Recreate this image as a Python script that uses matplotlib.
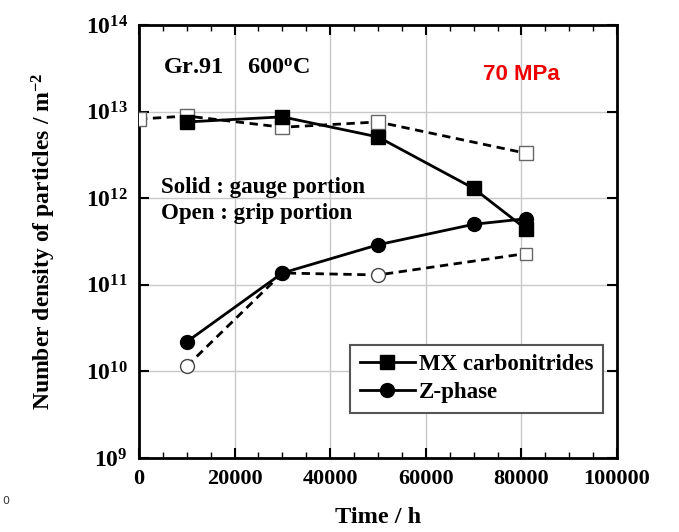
import math
import matplotlib
matplotlib.use("Agg")
import matplotlib.pyplot as plt
from matplotlib.ticker import FuncFormatter, MultipleLocator, LogLocator, NullLocator

plt.rcParams['font.family'] = ['Liberation Serif', 'DejaVu Serif']
plt.rcParams['mathtext.fontset'] = 'custom'
plt.rcParams['mathtext.rm'] = 'Liberation Serif:bold'
plt.rcParams['mathtext.it'] = 'Liberation Serif:bold'
plt.rcParams['mathtext.bf'] = 'Liberation Serif:bold'

# data (time in h, density in m^-2)
t_mx_solid = [10000, 30000, 50000, 70000, 81000]
mx_solid = [7.6e12, 8.7e12, 5.1e12, 1.3e12, 4.4e11]
t_mx_open = [0, 10000, 30000, 50000, 81000]
mx_open = [8.2e12, 8.9e12, 6.6e12, 7.6e12, 3.3e12]
t_z_solid = [10000, 30000, 50000, 70000, 81000]
z_solid = [2.2e10, 1.37e11, 2.9e11, 5.0e11, 5.8e11]
t_z_open = [10000, 30000, 50000]
z_open = [1.15e10, 1.37e11, 1.3e11]
t_z_open_end = [81000]
z_open_end = [2.3e11]

fig = plt.figure(figsize=(6.79, 5.32), dpi=100)
ax = fig.add_axes([0.2047, 0.139, 0.704, 0.814])

ax.set_yscale('log')
ax.set_xlim(0, 100000)
ax.set_ylim(1e9, 1e14)
ax.grid(True, which='major', color='#c8c8c8', lw=1)
ax.set_axisbelow(True)

# open (grip portion), dashed
ax.plot(t_mx_open, mx_open, ls=(0, (3, 2)), color='black', lw=2,
        marker='s', ms=10, mfc='white', mec='#666666', mew=1, zorder=3)
ax.plot(t_z_open + t_z_open_end, z_open + z_open_end, ls=(0, (3, 2)), color='black', lw=2,
        marker='None', zorder=3)
ax.plot(t_z_open, z_open, ls='None', marker='o', ms=10, mfc='white',
        mec='#444444', mew=1, zorder=4)
ax.plot(t_z_open_end, z_open_end, ls='None', marker='s', ms=9, mfc='white',
        mec='#666666', mew=1, zorder=4)

# solid (gauge portion)
ax.plot(t_mx_solid, mx_solid, '-', color='black', lw=2, marker='s', ms=10,
        label='MX carbonitrides', zorder=5)
ax.plot(t_z_solid, z_solid, '-', color='black', lw=2, marker='o', ms=10,
        label='Z-phase', zorder=5)

for s in ax.spines.values():
    s.set_linewidth(2)
ax.xaxis.set_major_locator(MultipleLocator(20000))
ax.xaxis.set_minor_locator(MultipleLocator(5000))
ax.yaxis.set_major_locator(LogLocator(base=10, numticks=10))
ax.yaxis.set_minor_locator(NullLocator())
ax.tick_params(which='both', direction='in', top=True, right=True)
ax.tick_params(which='major', length=7, width=1.5, labelsize=16, pad=8)
ax.tick_params(axis='y', labelsize=17)
ax.tick_params(which='minor', length=4, width=1)
ax.xaxis.set_major_formatter(FuncFormatter(lambda v, p: '%d' % v))
ax.yaxis.set_major_formatter(FuncFormatter(lambda v, p: r'$\mathrm{10^{%d}}$' % round(math.log10(v))))
for lab in ax.get_xticklabels():
    lab.set_fontweight('bold')

ax.set_xlabel('Time / h', fontsize=17.5, fontweight='bold', labelpad=13)
ax.set_ylabel(r'Number density of particles / m$^{\mathrm{-2}}$', fontsize=17,
              fontweight='bold', labelpad=20)

ax.text(0.05, 0.9, 'Gr.91    600$^{\\mathrm{o}}$C', transform=ax.transAxes,
        fontsize=17.5, fontweight='bold', va='center')
ax.text(0.72, 0.885, '70 MPa', transform=ax.transAxes, fontsize=16,
        fontweight='bold', color='#ee0000', family='Liberation Sans', va='center')
ax.text(0.045, 0.625, 'Solid : gauge portion', transform=ax.transAxes,
        fontsize=16.5, fontweight='bold', va='center')
ax.text(0.045, 0.565, 'Open : grip portion', transform=ax.transAxes,
        fontsize=16.5, fontweight='bold', va='center')

leg = ax.legend(loc='lower right', bbox_to_anchor=(0.97, 0.105),
                prop={'weight': 'bold', 'size': 16.5}, fancybox=False,
                edgecolor='#555555', framealpha=1, handlelength=2.4,
                borderpad=0.4, labelspacing=0.3, handletextpad=0.2,
                borderaxespad=0)
leg.get_frame().set_linewidth(1.5)

fig.text(0.003, 0.052, '0', fontsize=8, family='DejaVu Sans', color='#333333')

fig.savefig('out.png', dpi=100)
